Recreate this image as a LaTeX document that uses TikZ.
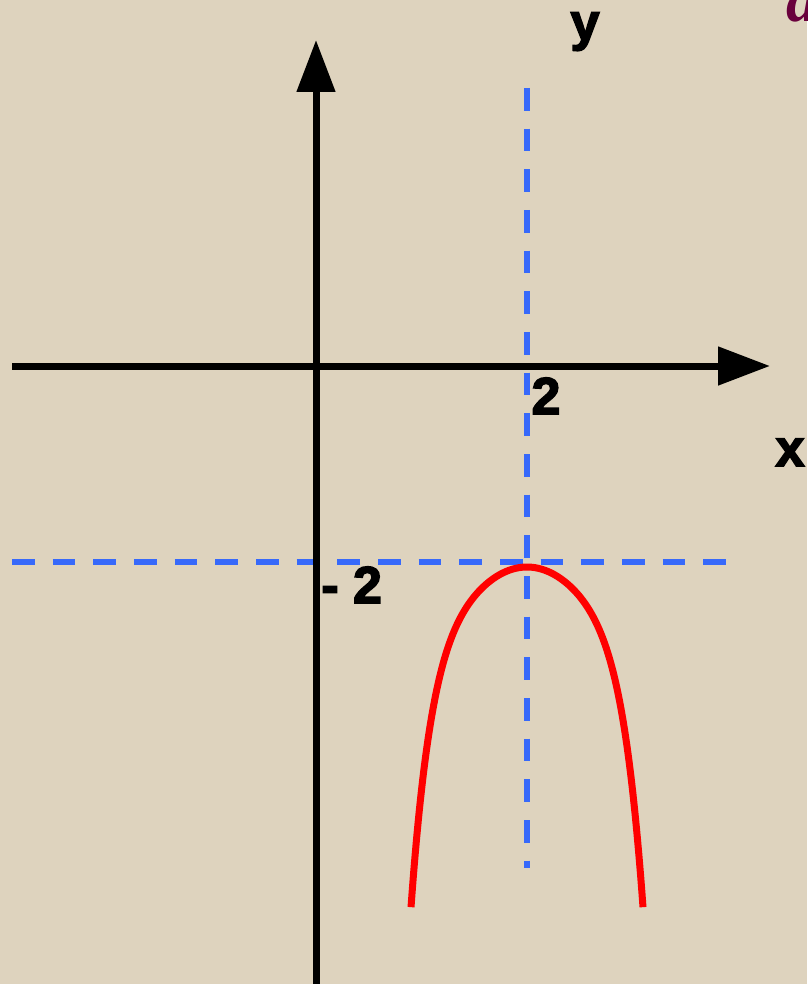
\documentclass[tikz,border=0pt]{standalone}
\usepackage{fontspec}
\usetikzlibrary{arrows.meta}
\setmainfont{Liberation Sans}
\newfontfamily\heavy{Liberation Sans}[BoldFeatures={FakeBold=3}]
\newfontfamily\serifrm{Liberation Serif}
\definecolor{bgbeige}{RGB}{222,211,190}
\definecolor{guideblue}{RGB}{55,105,250}
\definecolor{curvered}{RGB}{255,0,0}
\definecolor{cutmaroon}{RGB}{105,0,60}
\begin{document}
\begin{tikzpicture}[x=0.75pt,y=-0.75pt,
  axis/.style={line width=5.25pt, -{Triangle[length=39pt,width=28pt]}},
  guide/.style={line width=4.1pt, draw=guideblue, dash pattern=on 17pt off 13.5pt},
  curve/.style={line width=5.25pt, draw=curvered},
  lbl/.style={inner sep=0pt, font=\heavy\bfseries\fontsize{39}{39}\selectfont}]
\fill[bgbeige] (0,0) rectangle (807,984);
\useasboundingbox (0,0) rectangle (807,984);
% guides
\coordinate (vgs) at (527,88);
\coordinate (vge) at (527,868);
\coordinate (hgs) at (12,562);
\coordinate (hge) at (730,562);
\draw[guide] (vgs) -- (vge);
\draw[guide] (hgs) -- (hge);
% axes
\coordinate (xs) at (12,366);
\coordinate (xe) at (770,366);
\coordinate (ys) at (316,984);
\coordinate (ye) at (316,40);
\draw[axis] (xs) -- (xe);
\draw[axis] (ys) -- (ye);
% curve
\draw[curve] plot[domain=-116:116, samples=117, smooth] ({527+\x}, {567+0.0102*\x*\x+203*(abs(\x)/116)^6.5});
% labels
\node[lbl, anchor=base] (ylab) at (585,40) {y};
\node[lbl, anchor=base] (xlab) at (790,466) {x};
\node[lbl, anchor=base] (two) at (546,414) {2};
\node[lbl, anchor=base west] (mtwo) at (321,603) {- 2};
\node[anchor=base west, inner sep=0pt, text=cutmaroon, font=\serifrm\bfseries\itshape\fontsize{48}{48}\selectfont] (cut) at (786,22) {a};
\end{tikzpicture}
\end{document}
